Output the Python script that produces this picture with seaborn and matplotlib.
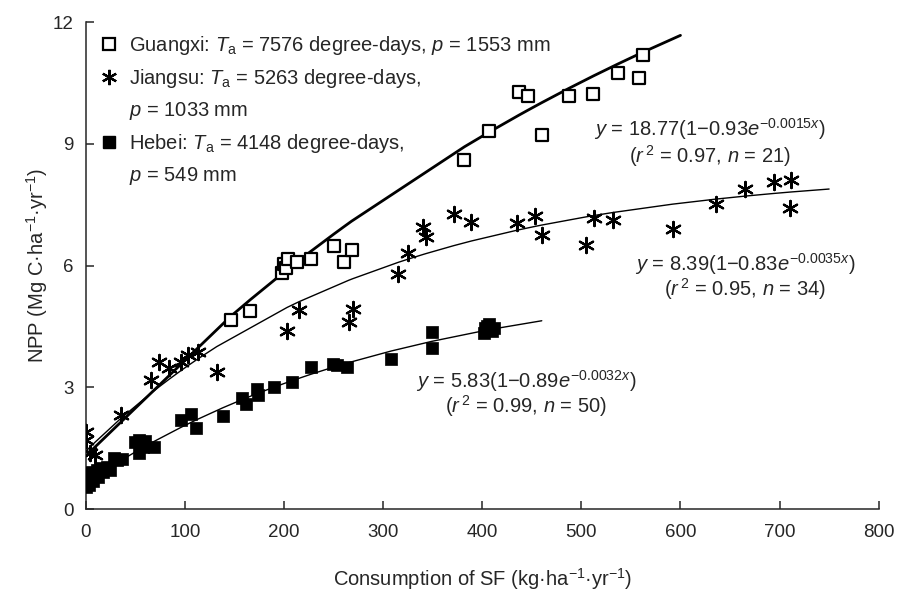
import numpy as np
import pandas as pd
import matplotlib
matplotlib.use("Agg")
import matplotlib.pyplot as plt
import seaborn as sns
from matplotlib.lines import Line2D

# Guangxi (open squares), n = 21
GX_SF = [146, 166, 198, 200, 202, 204, 213, 227, 250, 260, 268,
         382, 407, 437, 446, 460, 487, 512, 537, 558, 562]
GX_NPP = [4.66, 4.88, 5.82, 6.03, 5.95, 6.17, 6.09, 6.17, 6.49, 6.09, 6.38,
          8.60, 9.32, 10.28, 10.17, 9.21, 10.17, 10.22, 10.75, 10.63, 11.18]

# Jiangsu (asterisks), n = 34
JS_SF = [0, 0, 4, 9, 35, 66, 74, 84, 96, 103, 113, 132,
         203, 215, 265, 269, 315, 325, 340, 343, 371, 389,
         435, 453, 460, 505, 513, 532, 592, 636, 665, 694, 712, 711]
JS_NPP = [1.90, 1.70, 1.37, 1.33, 2.31, 3.18, 3.63, 3.47, 3.63, 3.79, 3.87, 3.38,
          4.39, 4.90, 4.61, 4.94, 5.79, 6.30, 6.95, 6.71, 7.27, 7.08,
          7.05, 7.22, 6.75, 6.50, 7.16, 7.12, 6.91, 7.51, 7.88, 8.06, 8.12, 7.41]

# Hebei (filled squares), n = 50
HB_SF = [0, 0, 1, 1, 2, 2, 3, 4, 5, 6, 7, 9, 11, 12, 14, 17, 21, 24,
         28, 31, 36, 49, 54, 58, 54, 60, 69, 96, 106, 111,
         138, 157, 161, 173, 174, 190, 208, 227, 249, 253, 263, 308,
         349, 349, 402, 403, 405, 407, 412, 410]
HB_NPP = [0.55, 0.62, 0.70, 0.78, 0.66, 0.88, 0.58, 0.74, 0.82, 0.90, 0.68, 0.88,
          0.95, 0.80, 1.00, 0.90, 1.03, 0.97,
          1.25, 1.20, 1.24, 1.66, 1.70, 1.53, 1.37, 1.68, 1.53, 2.19, 2.35, 1.99,
          2.29, 2.73, 2.60, 2.95, 2.80, 3.00, 3.14, 3.49, 3.58, 3.55, 3.51, 3.70,
          4.36, 3.96, 4.33, 4.45, 4.50, 4.57, 4.45, 4.38]

# fitted equations shown on the chart: y = a(1 - b e^(-c x)), drawn up to xmax
FITS = {
    "Guangxi": (18.77, 0.93, 0.0015, 600),
    "Jiangsu": (8.39, 0.83, 0.0035, 750),
    "Hebei": (5.83, 0.89, 0.0032, 460),
}

sns.set_style("ticks")
plt.rcParams["font.family"] = ["Liberation Sans", "DejaVu Sans"]
plt.rcParams["mathtext.fontset"] = "custom"
plt.rcParams["mathtext.rm"] = "Liberation Sans"
plt.rcParams["mathtext.it"] = "Liberation Sans:italic"
plt.rcParams["mathtext.bf"] = "Liberation Sans:bold"
FS = 14.5

ASTERISK = (6, 2, 0)

fig = plt.figure(figsize=(9.09, 5.97), dpi=100)
ax = fig.add_axes([0.0946, 0.1474, 0.872, 0.8156])


def fit_curve(name, xs):
    a, b, c, xmax = FITS[name]
    grid = np.array(sorted(set([0] + list(xs) + [xmax])), dtype=float)
    return pd.DataFrame({"x": grid, "y": a * (1 - b * np.exp(-c * grid))})


for name, xs, lw in [("Guangxi", GX_SF, 2.0), ("Jiangsu", JS_SF, 1.0), ("Hebei", HB_SF, 1.0)]:
    d = fit_curve(name, xs)
    sns.lineplot(data=d, x="x", y="y", color="black", linewidth=lw, sort=True,
                 estimator=None, ax=ax, zorder=2)

gx = pd.DataFrame({"x": GX_SF, "y": GX_NPP})
js = pd.DataFrame({"x": JS_SF, "y": JS_NPP})
hb = pd.DataFrame({"x": HB_SF, "y": HB_NPP})

sns.scatterplot(data=hb, x="x", y="y", marker="s", s=80, color="black",
                edgecolor="black", linewidth=0.5, ax=ax, zorder=3)
sns.scatterplot(data=js, x="x", y="y", marker=ASTERISK, s=120, color="black",
                linewidth=1.6, ax=ax, zorder=3)
sns.scatterplot(data=gx, x="x", y="y", marker="s", s=65, facecolor="white",
                edgecolor="black", linewidth=1.6, ax=ax, zorder=4)

ax.set_xlim(0, 800)
ax.set_ylim(0, 12)
ax.set_xticks(range(0, 801, 100))
ax.set_yticks([0, 3, 6, 9, 12])
ax.tick_params(axis="x", direction="in", length=6, width=1.1, labelsize=FS - 1, pad=11)
ax.tick_params(axis="y", direction="in", length=6, width=1.1, labelsize=FS - 1, pad=9)
for sp in ["top", "right"]:
    ax.spines[sp].set_visible(False)
for sp in ["left", "bottom"]:
    ax.spines[sp].set_linewidth(1.1)

ax.set_xlabel("Consumption of SF (kg·ha$^{-1}$·yr$^{-1}$)", fontsize=FS, labelpad=18)
ax.set_ylabel("NPP (Mg C·ha$^{-1}$·yr$^{-1}$)", fontsize=FS, labelpad=2)

# equations
eq_kw = dict(ha="center", va="center", fontsize=FS)
ax.text(630, 9.36, r"$y$ = 18.77(1$-$0.93$e^{-0.0015x}$)", **eq_kw)
ax.text(630, 8.70, r"($r^{\,2}$ = 0.97, $n$ = 21)", **eq_kw)
ax.text(665, 6.04, r"$y$ = 8.39(1$-$0.83$e^{-0.0035x}$)", **eq_kw)
ax.text(665, 5.42, r"($r^{\,2}$ = 0.95, $n$ = 34)", **eq_kw)
ax.text(444, 3.15, r"$y$ = 5.83(1$-$0.89$e^{-0.0032x}$)", **eq_kw)
ax.text(444, 2.54, r"($r^{\,2}$ = 0.99, $n$ = 50)", **eq_kw)

# legend (second lines as blank-handle entries so markers sit on the first line)
handles = [
    Line2D([], [], marker="s", ls="", ms=8, mfc="white", mec="black", mew=1.6),
    Line2D([], [], marker=ASTERISK, ls="", ms=11, color="black", mew=1.6),
    Line2D([], [], ls="", marker=""),
    Line2D([], [], marker="s", ls="", ms=9, color="black"),
    Line2D([], [], ls="", marker=""),
]
labels = [
    r"Guangxi: $T_{\rm a}$ = 7576 degree-days, $p$ = 1553 mm",
    r"Jiangsu: $T_{\rm a}$ = 5263 degree-days,",
    r"$p$ = 1033 mm",
    r"Hebei: $T_{\rm a}$ = 4148 degree-days,",
    r"$p$ = 549 mm",
]
ax.legend(handles, labels, loc="upper left", bbox_to_anchor=(0.003, 1.0),
          frameon=False, fontsize=FS, handlelength=0.8, handletextpad=0.6,
          labelspacing=0.5, borderaxespad=0.2)

fig.savefig("out.png", dpi=100)
